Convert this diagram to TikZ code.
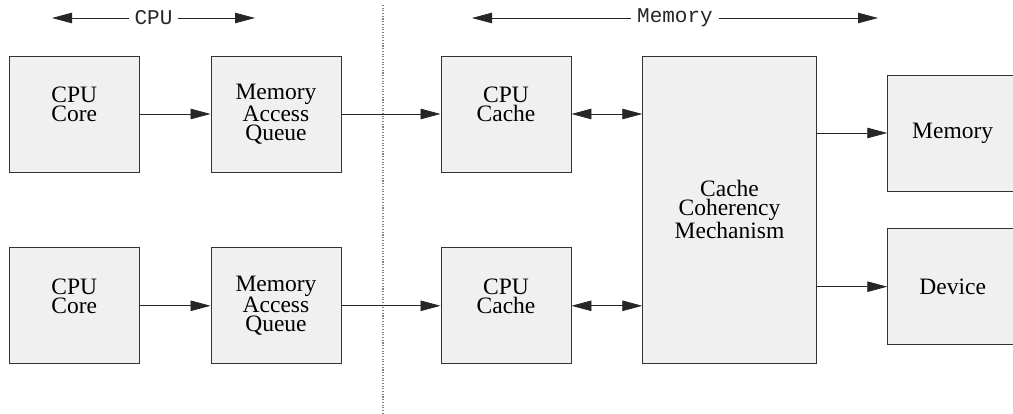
\documentclass[tikz,border=0pt]{standalone}
\usepackage{fontspec}
\setmainfont{Liberation Serif}
\setmonofont{Liberation Mono}
\usetikzlibrary{arrows.meta,positioning,calc}

\tikzset{
  block/.style={draw=black!80, line width=0.9pt, fill=black!6, minimum width=130pt,
    minimum height=116pt, inner sep=0pt, align=center,
    font=\fontsize{23.5}{19}\selectfont},
  link/.style={line width=0.8pt, black!85, -{Triangle[length=20pt,width=10.5pt]}},
  both/.style={line width=0.8pt, black!85, {Triangle[length=20pt,width=10.5pt]}-{Triangle[length=20pt,width=10.5pt]}},
  head/.style={font=\ttfamily\fontsize{21}{21}\selectfont, fill=white, inner xsep=6pt}
}

\begin{document}
\begin{tikzpicture}[x=1pt, y=1pt]
\useasboundingbox (0,0) rectangle (1013,414);

% separator between cpu and memory side
\coordinate (sepT) at (383,409);
\coordinate (sepB) at (383,0);
\draw [black!50, line width=1.1pt, dash pattern=on 1.1pt off 1.6pt] (sepT) -- (sepB);

% headers
\coordinate (cpuL) at (52,396);
\coordinate (cpuR) at (255,396);
\coordinate (memL) at (472,396);
\coordinate (memR) at (878,396);
\draw [both] (cpuL) -- (cpuR) node [midway, head] (cpuhd) {CPU};
\draw [both] (memL) -- (memR) node [midway, head] (memhd) {Memory};

% first cpu
\node [block] (core1)  at (74.3,300)  {CPU\\Core\\~};
\node [block] (maq1)   at (276,300)   {Memory\\Access\\Queue};
\node [block] (cache1) at (506,300)   {CPU\\Cache\\~};

% second cpu
\node [block] (core2)  at (74.3,108.2) {CPU\\Core\\~};
\node [block] (maq2)   at (276,108.2)  {Memory\\Access\\Queue};
\node [block] (cache2) at (506,108.2)  {CPU\\Cache\\~};

% shared part
\node [block, minimum width=173.5pt, minimum height=307pt] (ccm) at (729.5,204.5) {Cache\\Coherency\\Mechanism};
\node [block] (mem) at (952.7,281)   {Memory};
\node [block] (dev) at (952.7,127.3) {Device};

\begin{scope}[link]
\draw (core1) -- (maq1);
\draw (maq1) -- (cache1);
\draw (core2) -- (maq2);
\draw (maq2) -- (cache2);
\draw (ccm.east |- mem.west) -- (mem.west);
\draw (ccm.east |- dev.west) -- (dev.west);
\end{scope}

\draw [both] (cache1.east) -- (cache1.east -| ccm.west);
\draw [both] (cache2.east) -- (cache2.east -| ccm.west);

\end{tikzpicture}
\end{document}
